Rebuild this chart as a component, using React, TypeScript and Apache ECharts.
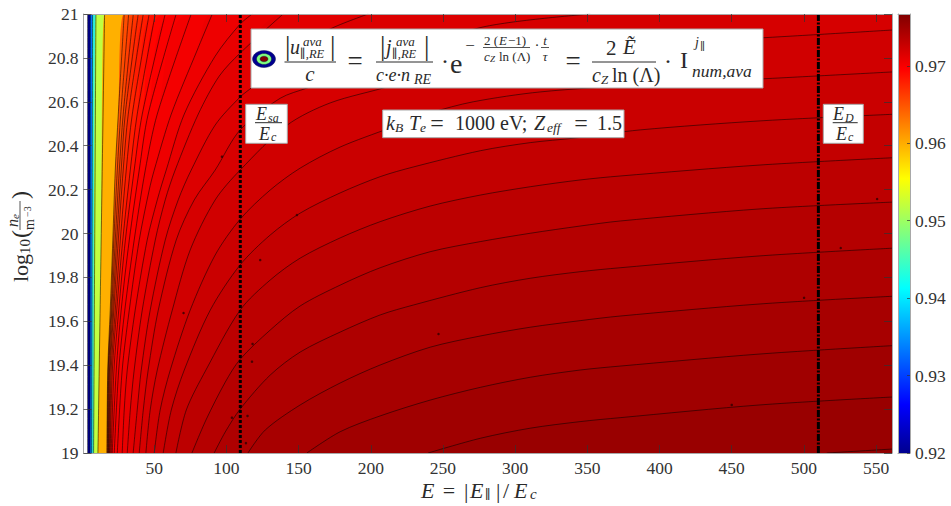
import React, { useEffect, useRef } from "react";
import * as echarts from "echarts";

// Axis ticks and ranges
const xTicks = [50, 100, 150, 200, 250, 300, 350, 400, 450, 500, 550];
const barTicks = [0.92, 0.93, 0.94, 0.95, 0.96, 0.97];
const xRange = [1, 561];
const yRange = [19, 21];
const barRange = [0.92, 0.9767];
const jetStops: [number, string][] = [
  [0, "#00008f"], [0.11, "#0000ff"], [0.375, "#00ffff"], [0.625, "#ffff00"], [0.875, "#ff0000"], [1, "#800000"],
];
const saLine = 109.6;
const dreicerLine = 510;

// Contour lines, left to right: [E, log10(n)]
const rowLevels = [19, 19.378, 19.651, 19.97, 20.289, 20.544, 21];
const zipRow = (es: number[]) => es.map((e, i) => [e, rowLevels[i]]);
const c30 = [[3.9, 19], [3.9, 21]];
const c29 = [[5.5, 19], [5.7, 21]];
const c28 = [[6.7, 19], [7.3, 21]];
const c27 = [[8.0, 19], [9.6, 21]];
const c26 = [[11.0, 19], [13.3, 20], [15.6, 21]];
const c25 = zipRow([17.2, 17.8, 19.5, 21.3, 23, 25.1, 29.2]);
const c24 = zipRow([17.6, 18.1, 20.1, 22, 24.4, 26.8, 32.3]);
const c23 = zipRow([18, 18.5, 20.6, 23, 25.8, 28.5, 35.5]);
const c22 = zipRow([18.3, 19, 21.3, 24, 27.1, 29.9, 38.9]);
const c21 = zipRow([18.7, 19.5, 22, 25.1, 28.5, 32, 42.4]);
const c20 = zipRow([19.1, 20.2, 23, 26.5, 30.6, 34.8, 46.5]);
const c19 = zipRow([19.5, 21, 24, 28.2, 33.4, 38.2, 50.7]);
const c18 = zipRow([20.2, 22.1, 25.4, 30, 36.1, 41.7, 57.6]);
const c17 = zipRow([20.9, 23.7, 27.1, 32.7, 39.6, 45.8, 65.2]);
const c16 = zipRow([22.3, 25.4, 29.6, 36.1, 43.8, 52.1, 75.6]);
const c15 = [[24.4, 19], [27.8, 19.378], [32.7, 19.651], [39.6, 19.97], [46.5, 20.198], [50, 20.289], [61.8, 20.544], [79.8, 20.836], [90.2, 21]];
const c14 = [[27.8, 19], [29.2, 19.196], [31.3, 19.378], [36.8, 19.651], [45.1, 19.97], [52.1, 20.153], [58.3, 20.289], [70.8, 20.544], [92.2, 20.808], [109.5, 20.954], [117.9, 21]];
const c13 = [[31.3, 19], [33.4, 19.196], [36.1, 19.378], [41.7, 19.651], [50.7, 19.97], [57.6, 20.153], [64.5, 20.289], [80.5, 20.544], [95, 20.717], [109.5, 20.822], [139.3, 21]];
const c12 = [[35.4, 19], [38.2, 19.196], [41, 19.378], [47.2, 19.651], [57.6, 19.97], [66.6, 20.153], [75.6, 20.289], [92.2, 20.494], [109.5, 20.622], [117.9, 20.667], [144.2, 20.827], [171.9, 20.932], [198.2, 21]];
const c11 = [[39.6, 19], [42.4, 19.196], [45.8, 19.378], [52.8, 19.651], [65.2, 19.97], [77.7, 20.153], [92.2, 20.289], [109.5, 20.472], [137.2, 20.616], [156, 20.663], [213.4, 20.8], [277.8, 20.941], [352, 21]];
const c10 = [[44.2, 19], [47.2, 19.196], [52.1, 19.378], [62.5, 19.651], [74.9, 19.925], [92.2, 20.153], [109.5, 20.289], [142.1, 20.494], [171.9, 20.595], [213.4, 20.672], [270.9, 20.8], [317.3, 20.836], [386.6, 20.863], [469.6, 20.891], [561, 20.927]];
const c9 = [[50, 19], [54.1, 19.196], [61.1, 19.378], [74.9, 19.651], [92.2, 19.902], [109.5, 20.065], [130.3, 20.198], [151.1, 20.298], [178.8, 20.394], [213.4, 20.481], [241.1, 20.549], [270.9, 20.6], [317.3, 20.645], [386.6, 20.677], [469.6, 20.704], [561, 20.736]];
const c8 = [[56.2, 19], [61.8, 19.196], [70.8, 19.378], [88.8, 19.651], [109.5, 19.857], [130.3, 19.993], [151.1, 20.093], [178.8, 20.185], [206.5, 20.259], [229.4, 20.303], [275.8, 20.377], [310.4, 20.414], [341.5, 20.435], [386.6, 20.472], [469.6, 20.513], [561, 20.543]];
const c7 = [[65, 19], [72.2, 19.196], [85.8, 19.378], [109.5, 19.651], [130.3, 19.788], [151.1, 19.888], [178.8, 19.98], [206.5, 20.054], [241.1, 20.125], [275.8, 20.175], [310.4, 20.213], [345, 20.244], [372.7, 20.262], [469.6, 20.312], [561, 20.345]];
const c6 = [[76.1, 19], [85.8, 19.15], [99.2, 19.323], [109.5, 19.427], [130.3, 19.56], [151.1, 19.67], [178.8, 19.765], [206.5, 19.844], [241.1, 19.917], [275.8, 19.963], [310.4, 20.001], [345, 20.034], [372.7, 20.057], [469.6, 20.112], [561, 20.143]];
const c5 = [[91.5, 19], [99.2, 19.096], [109.5, 19.2], [130.3, 19.355], [151.1, 19.46], [178.8, 19.551], [206.5, 19.629], [229.4, 19.674], [275.8, 19.753], [310.4, 19.796], [345, 19.826], [372.7, 19.844], [469.6, 19.898], [561, 19.933]];
const c4 = [[114.9, 19], [126.9, 19.105], [151.1, 19.219], [178.8, 19.319], [206.5, 19.401], [241.1, 19.482], [275.8, 19.533], [310.4, 19.573], [345, 19.603], [372.7, 19.624], [469.6, 19.679], [561, 19.714]];
const c3 = [[155.7, 19], [178.8, 19.097], [206.5, 19.169], [241.1, 19.241], [275.8, 19.299], [310.4, 19.345], [345, 19.378], [372.7, 19.396], [469.6, 19.451], [561, 19.489]];
const c2 = [[239.7, 19], [275.8, 19.067], [310.4, 19.113], [345, 19.143], [372.7, 19.161], [469.6, 19.219], [561, 19.255]];
const c1 = [[515.8, 19], [561, 19.018]];

const contours = [c30, c29, c28, c27, c26, c25, c24, c23, c22, c21, c20, c19, c18, c17, c16, c15, c14, c13, c12, c11, c10, c9, c8, c7, c6, c5, c4, c3, c2, c1];
const bandColors = [
  "#00008f", "#0070ff", "#30f0d8", "#c0ff40", "#ffb000",
  "#ff5800", "#ff4c00", "#ff4000", "#ff3400", "#ff2800", "#ff1c00", "#ff1000", "#ff0400",
  "#fa0000", "#f40000", "#ee0000", "#e80000", "#e20000", "#dc0000", "#d60000", "#d00000",
  "#ca0000", "#c30000", "#bc0000", "#b50000", "#ae0000", "#a70000", "#a00000", "#990000", "#920000",
];
const specks = [
  [70.3, 19.638], [123.4, 19.879], [148.8, 20.084], [118.1, 19.497], [117.7, 19.416], [103.8, 19.161], [114.6, 19.169],
  [113.5, 19.045], [246.9, 19.542], [450, 19.219], [525.5, 19.934], [500.1, 19.707], [550.7, 20.157], [96.9, 20.35],
];

const SERIF = '"Liberation Serif", "DejaVu Serif", serif';
const INK = "#2a2a2a";
const tx = (text: string, x: number, y: number, size: number, italic = false, align = "left") => ({
  type: "text", x, y, z: 12,
  style: { text, fill: INK, font: `${italic ? "italic " : ""}${size}px ${SERIF}`, align, verticalAlign: "middle" },
});
const rule = (x1: number, x2: number, y: number, w = 1) => ({
  type: "line", z: 12, shape: { x1, y1: y, x2, y2: y }, style: { stroke: INK, lineWidth: w },
});
const box = (x: number, y: number, width: number, height: number) => ({
  type: "rect", z: 11, shape: { x, y, width, height }, style: { fill: "#ffffff", stroke: "#a8a8a8", lineWidth: 1 },
});
const oval = (cx: number, cy: number, rx: number, ry: number, fill: string) => ({
  type: "ellipse", z: 12, shape: { cx, cy, rx, ry }, style: { fill, stroke: "#00003a", lineWidth: 0.4 },
});

const annotations: any[] = [
  // main formula
  box(251, 29, 512, 59),
  oval(264, 59, 11.5, 8.5, "#00008f"), oval(264, 59, 7.5, 5.5, "#80ff80"), oval(264, 59, 4, 2.8, "#800000"),
  tx("|", 285, 46, 27), tx("u", 290, 47, 20, true), tx("ava", 303, 41, 13, true), tx("∥,RE", 300, 54, 12.5, true), tx("|", 330, 46, 27),
  rule(284.5, 336, 62), tx("c", 310, 74, 21, true, "center"),
  tx("=", 355, 61, 27, false, "center"),
  tx("|", 380, 46, 27), tx("j", 386, 47, 20, true), tx("ava", 396, 41, 13, true), tx("∥,RE", 392, 54, 12.5, true), tx("|", 424, 46, 27),
  rule(376, 433, 62), tx("c·e·n", 376, 75, 18, true), tx("RE", 414, 79, 14, true),
  tx("·", 445, 61, 24, false, "center"), tx("e", 450, 63, 28),
  tx("−", 470, 45, 17, false, "center"),
  tx("2 (", 484, 40, 13), tx("E", 499, 40, 13, true), tx("−1)", 508, 40, 13), rule(483, 530, 47.5, 0.8),
  tx("c", 484, 56, 13, true), tx("Z", 490, 59, 9, true), tx("ln (Λ)", 499, 56, 13),
  tx("·", 537, 45, 15, false, "center"), tx("t", 545, 40, 13, true, "center"), rule(541, 549, 47.5, 0.8), tx("τ", 545, 56, 13, true, "center"),
  tx("=", 573, 61, 27, false, "center"),
  tx("2", 606, 48, 21), tx("Ẽ", 623, 47, 21, true), rule(592, 656, 62),
  tx("c", 592, 75, 20, true), tx("Z", 601, 79, 13, true), tx("ln (Λ)", 612, 75, 20),
  tx("·", 668, 61, 24, false, "center"), tx("I", 680, 60, 24),
  tx("j", 695, 42, 14, true), tx("∥", 700, 46, 11, true), tx("num,ava", 692, 71, 17.5, true),
  // E_sa / E_c
  box(245.7, 104.3, 41.6, 39),
  tx("E", 256, 114, 18, true), tx("sa", 268, 118, 12, true), rule(255, 282, 122.7),
  tx("E", 259, 134, 18, true), tx("c", 271, 137, 12, true),
  // E_D / E_c
  box(823.3, 104.3, 40, 39),
  tx("E", 833, 114, 18, true), tx("D", 845, 118, 12, true), rule(832.7, 857.7, 122.7),
  tx("E", 836, 134, 18, true), tx("c", 848, 137, 12, true),
  // parameters
  box(382.7, 110, 241.3, 27.7),
  tx("k", 386, 123, 20, true), tx("B", 395, 127, 13.5, true), tx("T", 409, 123, 20, true), tx("e", 420, 127, 13.5, true),
  tx("=", 437, 123, 24, false, "center"), tx("1000 eV;", 455, 123, 20),
  tx("Z", 534, 123, 20, true), tx("eff", 547, 127, 13.5, true),
  tx("=", 581, 123, 24, false, "center"), tx("1.5", 597, 123, 20),
  // x axis name
  tx("E", 421, 490, 22, true), tx("=", 449, 490, 22, false, "center"), tx("|", 464, 490, 22), tx("E", 470, 490, 22, true), tx("∥", 485, 494, 13, true),
  tx("|", 496, 490, 22), tx("/", 503, 490, 22), tx("E", 514, 490, 22, true), tx("c", 530, 494, 15, true),
  // y axis name
  {
    type: "group", x: 20, y: 282, rotation: Math.PI / 2, z: 12,
    children: [
      tx("log", 0, 0, 22), tx("10", 28, 5, 15), tx("(", 44, 0, 24),
      tx("n", 55, -8, 16, true), tx("e", 63, -5, 11, true), rule(52, 81, 0, 0.8),
      tx("m", 52, 9, 14), tx("−3", 65, 7, 10), tx(")", 83, 0, 24),
    ],
  },
];

export default function App() {
  const ref = useRef<HTMLDivElement>(null);
  useEffect(() => {
    document.body.style.margin = "0";
    const chart = echarts.init(ref.current!, undefined, { renderer: "svg" });
    const frame = { show: true, onZero: false, lineStyle: { color: "#a8a8a8", width: 1 } };
    const tick = { show: true, inside: true, length: 8, lineStyle: { color: "rgba(50,50,50,0.7)", width: 1 } };
    const label = { color: "#333333", fontFamily: SERIF, fontSize: 17.5 };
    const base = { type: "value", splitLine: { show: false }, z: 3 };

    const fills = contours.map((pts, i) => {
      const last = pts[pts.length - 1];
      const data = last[1] === yRange[1] ? [...pts, [xRange[1], yRange[1]]] : pts;
      return {
        type: "line", data, xAxisIndex: 0, yAxisIndex: 0, symbol: "none", silent: true,
        smooth: 0.3, z: 2,
        lineStyle: { width: 0 },
        areaStyle: { origin: "start", color: bandColors[i], opacity: 1 },
      };
    });
    const strokes = contours.map((pts) => ({
      type: "line", data: pts, xAxisIndex: 0, yAxisIndex: 0, symbol: "none", silent: true,
      smooth: 0.3, z: 2,
      lineStyle: { color: "#000000", width: 0.7, opacity: 0.75 },
    }));
    const vertical = (x: number, type: any) => ({
      type: "line", data: [[x, yRange[0]], [x, yRange[1]]], xAxisIndex: 0, yAxisIndex: 0, symbol: "none", silent: true, z: 2,
      lineStyle: { color: "#000000", width: 3, type },
    });

    chart.setOption({
      animation: false,
      backgroundColor: "#ffffff",
      tooltip: { show: false },
      grid: [
        { left: 83.5, top: 14, width: 808.5, height: 439, show: true, backgroundColor: "#ffffff", borderWidth: 0 },
        { left: 898, top: 14, width: 12, height: 439 },
      ],
      xAxis: [
        { ...base, gridIndex: 0, position: "bottom", min: xRange[0], max: xRange[1], axisLine: frame,
          axisTick: { ...tick, customValues: xTicks }, axisLabel: { ...label, customValues: xTicks, margin: 6 } },
        { ...base, gridIndex: 0, position: "top", min: xRange[0], max: xRange[1], axisLine: frame,
          axisTick: { ...tick, customValues: xTicks }, axisLabel: { show: false } },
        { ...base, gridIndex: 1, position: "bottom", min: 0, max: 1, axisLine: frame, axisTick: { show: false }, axisLabel: { show: false } },
        { ...base, gridIndex: 1, position: "top", min: 0, max: 1, axisLine: frame, axisTick: { show: false }, axisLabel: { show: false } },
      ],
      yAxis: [
        { ...base, gridIndex: 0, position: "left", min: yRange[0], max: yRange[1], interval: 0.2, axisLine: frame,
          axisTick: tick, axisLabel: { ...label, margin: 5 } },
        { ...base, gridIndex: 0, position: "right", min: yRange[0], max: yRange[1], interval: 0.2, axisLine: frame,
          axisTick: tick, axisLabel: { show: false } },
        { ...base, gridIndex: 1, position: "left", min: barRange[0], max: barRange[1], axisLine: frame,
          axisTick: { show: false }, axisLabel: { show: false } },
        { ...base, gridIndex: 1, position: "right", min: barRange[0], max: barRange[1], axisLine: frame,
          axisTick: { ...tick, length: 3, customValues: barTicks },
          axisLabel: { ...label, margin: 5, customValues: barTicks, formatter: (v: number) => v.toFixed(2) } },
      ],
      series: [
        ...fills,
        ...strokes,
        vertical(saLine, [3, 2]),
        vertical(dreicerLine, [7, 1.5, 2, 1.5]),
        {
          type: "scatter", data: specks, xAxisIndex: 0, yAxisIndex: 0, symbolSize: 2.5, silent: true, z: 2,
          itemStyle: { color: "#300000" },
        },
        {
          type: "custom", xAxisIndex: 2, yAxisIndex: 3, data: [[0, barRange[0], 1, barRange[1]]], silent: true, z: 2,
          renderItem: (_: any, api: any) => {
            const a = api.coord([api.value(0), api.value(1)]);
            const b = api.coord([api.value(2), api.value(3)]);
            return {
              type: "rect",
              shape: { x: a[0], y: b[1], width: b[0] - a[0], height: a[1] - b[1] },
              style: {
                fill: new echarts.graphic.LinearGradient(0, 1, 0, 0, jetStops.map(([offset, color]) => ({ offset, color }))),
              },
            };
          },
        },
      ],
      graphic: { elements: annotations },
    });
    return () => chart.dispose();
  }, []);
  return <div ref={ref} style={{ width: 951, height: 506 }} />;
}
